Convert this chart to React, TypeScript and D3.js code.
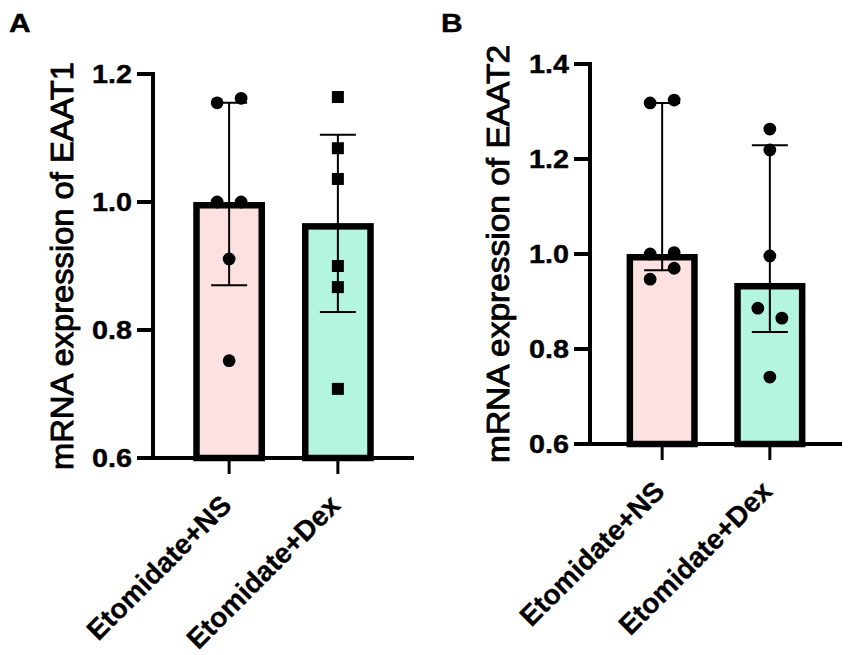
import React from 'react';
import * as d3 from 'd3';

// groups on the x axis
const groups = ['Etomidate+NS', 'Etomidate+Dex'];

// panel A - EAAT1
const eaat1Ticks = [0.6, 0.8, 1.0, 1.2];
const eaat1Means = [1.0, 0.967];
const eaat1Upper = [1.155, 1.105];
const eaat1Lower = [0.87, 0.828];
const eaat1NS = [1.155, 1.162, 1.0, 1.0, 0.911, 0.752];
const eaat1Dex = [1.164, 1.084, 1.036, 0.9, 0.867, 0.708];

// panel B - EAAT2
const eaat2Ticks = [0.6, 0.8, 1.0, 1.2, 1.4];
const eaat2Means = [1.0, 0.939];
const eaat2Upper = [1.318, 1.229];
const eaat2Lower = [0.966, 0.836];
const eaat2NS = [1.318, 1.324, 1.0, 1.003, 0.947, 0.97];
const eaat2Dex = [1.263, 1.219, 0.996, 0.886, 0.865, 0.741];

const fills = ['#fde0e0', '#b3f5df'];
const font = '"Liberation Sans", Arial, sans-serif';

// spread points that would overlap, left / right of the centre
function dodge(vals: number[], y: (v: number) => number, gap = 14, off = 12) {
  const offsets = vals.map(() => 0);
  const idx = vals.map((_, i) => i).sort((a, b) => vals[a] - vals[b]);
  let cluster = [idx[0]];
  const flush = () => {
    if (cluster.length > 1) {
      cluster.sort((a, b) => a - b).forEach((k, j) => (offsets[k] = j % 2 === 0 ? -off : off));
    }
  };
  for (let i = 1; i < idx.length; i++) {
    if (Math.abs(y(vals[idx[i]]) - y(vals[idx[i - 1]])) < gap) cluster.push(idx[i]);
    else {
      flush();
      cluster = [idx[i]];
    }
  }
  flush();
  return offsets;
}

type PanelProps = {
  letter: string;
  letterX: number;
  title: string;
  titleX: number;
  titleLen: number;
  ticks: number[];
  means: number[];
  upper: number[];
  lower: number[];
  points: number[][];
  shapes: d3.SymbolType[];
  left: number;
  right: number;
  top: number;
  bottom: number;
  outer: number;
};

const Panel = (p: PanelProps) => {
  const y = d3.scaleLinear().domain([p.ticks[0], p.ticks[p.ticks.length - 1]]).range([p.bottom, p.top]);
  const x = d3.scaleBand().domain(groups).range([p.left, p.right]).paddingInner(0.4).paddingOuter(p.outer);
  const bw = x.bandwidth();
  const sw = 6.5;
  const midY = (p.top + p.bottom) / 2;

  return (
    <g>
      <text
        transform={`translate(${p.letterX},32) scale(1.2,1)`}
        fontSize={25}
        fontWeight="bold"
        fontFamily={font}
        stroke="#000"
        strokeWidth={0.4}
      >
        {p.letter}
      </text>
      <text
        transform={`translate(${p.titleX},${midY}) rotate(-90)`}
        textAnchor="middle"
        fontSize={31}
        fontFamily={font}
        stroke="#000"
        strokeWidth={0.9}
        textLength={p.titleLen}
        lengthAdjust="spacingAndGlyphs"
      >
        {p.title}
      </text>

      {/* bars */}
      {groups.map((g, i) => (
        <rect
          key={g}
          x={x(g) ?? 0}
          y={y(p.means[i]) + sw / 2}
          width={bw}
          height={p.bottom - y(p.means[i]) - sw / 2}
          fill={fills[i]}
          stroke="#000"
          strokeWidth={sw}
        />
      ))}

      {/* y axis */}
      <line x1={p.left} x2={p.left} y1={p.top - 2} y2={p.bottom + 2} stroke="#000" strokeWidth={4} />
      {p.ticks.map((t) => (
        <g key={t}>
          <line x1={p.left - 16} x2={p.left} y1={y(t)} y2={y(t)} stroke="#000" strokeWidth={4} />
          <text
            transform={`translate(${p.left - 21},${y(t)}) scale(1.15,1)`}
            dy="0.36em"
            textAnchor="end"
            fontSize={25}
            fontWeight="bold"
            fontFamily={font}
            stroke="#000"
            strokeWidth={0.4}
          >
            {t.toFixed(1)}
          </text>
        </g>
      ))}

      {/* x axis */}
      <line x1={p.left - 2} x2={p.right} y1={p.bottom} y2={p.bottom} stroke="#000" strokeWidth={4} />
      {groups.map((g) => {
        const cx = (x(g) ?? 0) + bw / 2;
        return (
          <g key={g}>
            <line x1={cx} x2={cx} y1={p.bottom} y2={p.bottom + 16} stroke="#000" strokeWidth={3} />
            <text
              transform={`translate(${cx + 4},${p.bottom + 49}) rotate(-45)`}
              textAnchor="end"
              fontSize={28}
              fontWeight="bold"
              fontFamily={font}
              stroke="#000"
              strokeWidth={0.3}
            >
              {g}
            </text>
          </g>
        );
      })}

      {/* error bars */}
      {groups.map((g, i) => {
        const cx = (x(g) ?? 0) + bw / 2;
        return (
          <g key={g} stroke="#000" strokeWidth={2}>
            <line x1={cx} x2={cx} y1={y(p.upper[i])} y2={y(p.lower[i])} />
            <line x1={cx - 18} x2={cx + 18} y1={y(p.upper[i])} y2={y(p.upper[i])} />
            <line x1={cx - 18} x2={cx + 18} y1={y(p.lower[i])} y2={y(p.lower[i])} />
          </g>
        );
      })}

      {/* individual points */}
      {groups.map((g, i) => {
        const cx = (x(g) ?? 0) + bw / 2;
        const offs = dodge(p.points[i], y);
        const sym = d3.symbol().type(p.shapes[i]).size(p.shapes[i] === d3.symbolSquare ? 144 : 128)();
        return p.points[i].map((v, j) => (
          <path key={g + j} d={sym ?? ''} transform={`translate(${cx + offs[j]},${y(v)})`} fill="#000" />
        ));
      })}
    </g>
  );
};

export default function App() {
  return (
    <div style={{ position: 'absolute', left: 0, top: 0 }}>
      <svg width={851} height={655} style={{ display: 'block', background: '#fff' }}>
        <Panel
          letter="A"
          letterX={9}
          title="mRNA expression of EAAT1"
          titleX={73}
          titleLen={408}
          ticks={eaat1Ticks}
          means={eaat1Means}
          upper={eaat1Upper}
          lower={eaat1Lower}
          points={[eaat1NS, eaat1Dex]}
          shapes={[d3.symbolCircle, d3.symbolSquare]}
          left={153}
          right={414}
          top={74}
          bottom={458}
          outer={0.4}
        />
        <Panel
          letter="B"
          letterX={441}
          title="mRNA expression of EAAT2"
          titleX={509}
          titleLen={418}
          ticks={eaat2Ticks}
          means={eaat2Means}
          upper={eaat2Upper}
          lower={eaat2Lower}
          points={[eaat2NS, eaat2Dex]}
          shapes={[d3.symbolCircle, d3.symbolCircle]}
          left={590}
          right={842}
          top={64}
          bottom={444}
          outer={0.37}
        />
      </svg>
    </div>
  );
}
